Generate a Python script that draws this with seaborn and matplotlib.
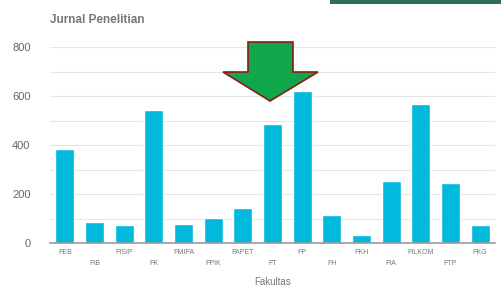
import matplotlib
matplotlib.use("Agg")
import matplotlib.pyplot as plt
import matplotlib.patches as mpatches
import seaborn as sns
import pandas as pd

# data
fakultas = ["FEB", "FIB", "FISIP", "FK", "FMIPA", "FPIK", "FAPET", "FT",
            "FP", "FH", "FKH", "FIA", "FILKOM", "FTP", "FKG"]
jurnal = [382, 86, 73, 543, 78, 102, 143, 486, 620, 114, 33, 253, 567, 245, 73]

df = pd.DataFrame({"Fakultas": fakultas, "Jurnal": jurnal})

sns.set_theme(style="white")
plt.rcParams['font.family'] = ['Liberation Sans', 'DejaVu Sans']

fig = plt.figure(figsize=(5.02, 2.93), dpi=100)
ax = fig.add_axes([50/502, 50/293, 445/502, 196/293])

sns.barplot(data=df, x="Fakultas", y="Jurnal", color="#00b9dd",
            saturation=1, width=0.64, ax=ax)

ax.set_ylim(0, 800)
ax.set_xlim(-0.5, len(fakultas) - 0.5)
ax.set_yticks([0, 200, 400, 600, 800])
ax.set_yticks([100, 300, 500, 700], minor=True)
ax.grid(axis="y", which="both", color="#e6e6e6", lw=0.8)
ax.set_axisbelow(True)
for s in ["top", "right", "left"]:
    ax.spines[s].set_visible(False)
ax.spines["bottom"].set_color("#9a9a9a")
ax.spines["bottom"].set_linewidth(1.2)
ax.tick_params(axis="y", length=0, labelsize=8, labelcolor="#666666", pad=14)
ax.tick_params(axis="y", which="minor", length=0)
ax.tick_params(axis="x", length=0, labelsize=5, labelcolor="#777777", pad=4)

# staggered x labels
ax.set_xticks(range(len(fakultas)))
ax.set_xticklabels(fakultas)
for i, lab in enumerate(ax.get_xticklabels()):
    if i % 2 == 1:
        lab.set_y(-0.06)

ax.set_ylabel("")
ax.set_xlabel("Fakultas", fontsize=7, color="#777777", va="center")
ax.xaxis.set_label_coords(0.5, -0.2)

fig.text(50/502, 1 - 20/293, "Jurnal Penelitian", fontsize=8.5, fontweight="bold",
         color="#777777", va="center", ha="left")

# green arrow annotation (figure pixel coords)
W, H = 502, 293
pts = [(248, 42), (293, 42), (293, 72), (318, 72), (270, 101), (223, 72), (248, 72)]
arrow = mpatches.Polygon([(x / W, 1 - y / H) for x, y in pts], closed=True,
                         transform=fig.transFigure, facecolor="#10a64a",
                         edgecolor="#8b1a1a", lw=1.2, zorder=10)
fig.patches.append(arrow)

# dark bar at the top right corner
fig.patches.append(mpatches.Rectangle((330 / W, 1 - 4 / H), 172 / W, 4 / H,
                                      transform=fig.transFigure,
                                      facecolor="#2f6b5e", edgecolor="none"))

fig.savefig("out.png", dpi=100)
